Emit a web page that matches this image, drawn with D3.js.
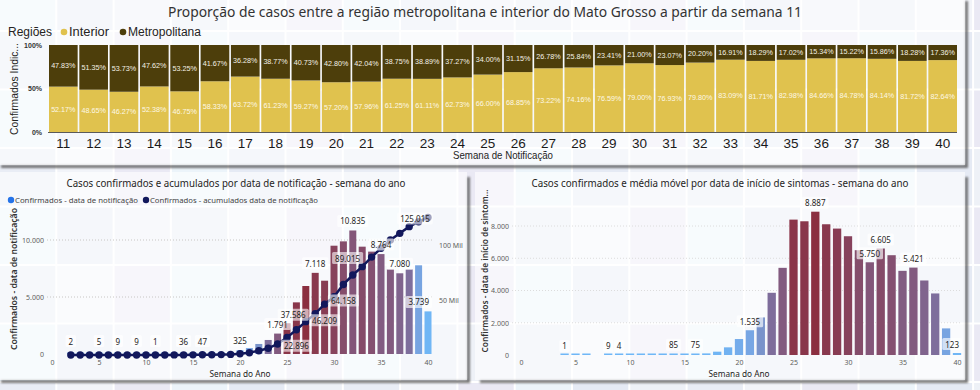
<!DOCTYPE html>
<html><head><meta charset="utf-8">
<script src="https://cdn.jsdelivr.net/npm/d3@7/dist/d3.min.js"></script>
<style>html,body{margin:0;padding:0;background:#fff;overflow:hidden}svg{display:block}</style>
</head><body>
<svg id="chart" width="980" height="390"></svg>
<script>
// ---------------- DATA ----------------
const semanasRegiao = [11,12,13,14,15,16,17,18,19,20,21,22,23,24,25,26,27,28,29,30,31,32,33,34,35,36,37,38,39,40];
const interior = [52.17,48.65,46.27,52.38,46.75,58.33,63.72,61.23,59.27,57.20,57.96,61.25,61.11,62.73,66.00,68.85,73.22,74.16,76.59,79.00,76.93,79.80,83.09,81.71,82.98,84.66,84.78,84.14,81.72,82.64];
const metropolitana = [47.83,51.35,53.73,47.62,53.25,41.67,36.28,38.77,40.73,42.80,42.04,38.75,38.89,37.27,34.00,31.15,26.78,25.84,23.41,21.00,23.07,20.20,16.91,18.29,17.02,15.34,15.22,15.86,18.28,17.36];
const regioes = ['Interior','Metropolitana'];
const ticksRegiaoY = [0,50,100];

const semanasNotificacao = [2,3,4,5,6,7,8,9,10,11,12,13,14,15,16,17,18,19,20,21,22,23,24,25,26,27,28,29,30,31,32,33,34,35,36,37,38,39,40];
const confirmadosNotificacao = [2,1,3,5,4,9,6,9,5,1,10,20,36,30,47,60,110,180,325,520,880,1230,1791,2700,4530,5965,7118,6430,9500,9880,10835,9415,8980,8764,7430,7080,7430,7780,3739];
const acumuladosNotificacao = [2,3,6,11,15,24,30,39,44,45,55,75,111,141,188,248,358,540,1200,2000,3900,6100,10000,16000,22896,30300,37586,46209,53000,64158,72700,80300,89015,97000,104500,110600,116700,121200,125015];
const rotulosNotificacao = [2,5,7,9,11,14,16,20,24,28,32,35,37,40];
const rotulosAcumulados = [26,28,29,31,34,40];
const ticksSemana = [0,5,10,15,20,25,30,35,40];
const ticksConfirmados = [0,5000,10000];
const ticksAcumulados = [50000,100000];

const semanasSintomas = [4,5,6,7,8,9,10,11,12,13,14,15,16,17,18,19,20,21,22,23,24,25,26,27,28,29,30,31,32,33,34,35,36,37,38,39,40];
const confirmadosSintomas = [1,3,2,0,9,4,12,18,25,45,85,55,75,100,206,475,990,1535,2331,3858,5405,8396,8293,8887,8108,7840,7365,6500,5750,6605,6189,5219,5421,4621,3817,1650,123];
const rotulosSintomas = [4,8,9,14,16,21,27,32,33,36,40];
const ticksSintomas = [0,2000,4000,6000,8000];

// ---------------- STYLE CONFIG ----------------
const FA = "'Liberation Sans', Arial, sans-serif";
const FN = "'Noto Sans', 'Open Sans', sans-serif";
const corInterior = '#E0C24E', corMetro = '#4D3E0B';
const corTexto = '#252423', corEixo = '#605E5C';
const posAcum = {26:[0,16],28:[-22,1],29:[0,16],31:[0,16],34:[-24,1],40:[-13,1]};
const locale = d3.formatLocale({decimal:',', thousands:'.', grouping:[3], currency:['R$','']});
const fmt = locale.format(',d');

const svg = d3.select('#chart');
const defs = svg.append('defs');
defs.append('filter').attr('id','blur').attr('x','-50%').attr('y','-50%').attr('width','200%').attr('height','200%')
  .append('feGaussianBlur').attr('stdDeviation',1.2);

// background mosaic
const tilePal = ['#e9edf5','#eef1f7','#e5eaf4','#ecf4fa','#eae9f4','#f2f4f9'];
const tiles = [];
for (let i=0;i<18;i++) for (let j=-1;j<7;j++) tiles.push({i,j});
svg.append('g').selectAll('rect').data(tiles).join('rect')
  .attr('x',d=>d.i*57.3).attr('y',d=>32+d.j*58.5).attr('width',55.3).attr('height',56.5)
  .attr('fill',d=>tilePal[(d.i*5+d.j*3+12)%6]);

function panel(x,y,w,h){
  const s=svg.append('g').attr('filter','url(#blur)').attr('opacity',0.8);
  s.append('rect').attr('x',x+5).attr('y',y+h).attr('width',w-2).attr('height',3).attr('fill','#555');
  s.append('rect').attr('x',x+w).attr('y',y+5).attr('width',3).attr('height',h-2).attr('fill','#555');
  svg.append('rect').attr('x',x).attr('y',y).attr('width',w).attr('height',h)
    .attr('fill','#fff').attr('fill-opacity',0.6);
}
panel(-4,-4,969,169);
panel(-4,172,471,208);
panel(475,172,490,208);

function txt(g,x,y,s,o){
  o=o||{};
  const t=g.append('text').attr('x',x).attr('y',y).text(s)
    .attr('font-family',o.ff||FN).attr('font-size',o.fs||8).attr('fill',o.fill||corTexto)
    .attr('text-anchor',o.anchor||'middle').attr('dominant-baseline','central');
  if(o.fw) t.attr('font-weight',o.fw);
  if(o.len) t.attr('textLength',o.len).attr('lengthAdjust','spacingAndGlyphs');
  if(o.rot) t.attr('transform',`rotate(-90,${x},${y})`);
  return t;
}

// ---------------- TOP CHART ----------------
const gT = svg.append('g');
txt(gT,485,11,'Proporção de casos entre a região metropolitana e interior do Mato Grosso a partir da semana 11',{fs:14.5,fill:'#333',len:634});
txt(gT,8,32,'Regiões',{ff:FA,fs:12.5,anchor:'start',len:44});
const legT=[{n:regioes[0],c:corInterior,x:64,w:40},{n:regioes[1],c:corMetro,x:123,w:73}];
legT.forEach(l=>{
  gT.append('circle').attr('cx',l.x).attr('cy',32).attr('r',3.3).attr('fill',l.c);
  txt(gT,l.x+5,32,l.n,{ff:FA,fs:12.5,anchor:'start',len:l.w});
});
const xT = d3.scaleBand().domain(semanasRegiao).range([49,957]).paddingInner(0.055);
const yT = d3.scaleLinear().domain([0,100]).range([132,45]);
gT.selectAll('rect.int').data(semanasRegiao).join('rect').attr('class','int')
  .attr('x',d=>xT(d)).attr('width',xT.bandwidth())
  .attr('y',(d,i)=>yT(interior[i])).attr('height',(d,i)=>yT(0)-yT(interior[i]))
  .attr('fill',corInterior);
gT.selectAll('rect.met').data(semanasRegiao).join('rect').attr('class','met')
  .attr('x',d=>xT(d)).attr('width',xT.bandwidth())
  .attr('y',(d,i)=>yT(interior[i]+metropolitana[i])).attr('height',(d,i)=>yT(interior[i])-yT(interior[i]+metropolitana[i]))
  .attr('fill',corMetro);
semanasRegiao.forEach((s,i)=>{
  const cx=xT(s)+xT.bandwidth()/2;
  txt(gT,cx,(yT(0)+yT(interior[i]))/2,interior[i].toFixed(2)+'%',{ff:FA,fs:7.2,fill:'#fdf8e6'});
  txt(gT,cx,(yT(interior[i])+yT(interior[i]+metropolitana[i]))/2,metropolitana[i].toFixed(2)+'%',{ff:FA,fs:7.2,fill:'#f4f1e6'});
});
gT.append('line').attr('x1',48).attr('x2',957).attr('y1',132.5).attr('y2',132.5).attr('stroke','#5a5a5a').attr('stroke-width',1);
const axT = gT.append('g').attr('transform','translate(0,132)').call(d3.axisBottom(xT).tickSize(0).tickPadding(6));
axT.select('.domain').remove();
axT.selectAll('text').attr('font-family',FA).attr('font-size',13.5).attr('fill','#1a1a1a');
const ayT = gT.append('g').attr('transform','translate(46,0)').call(d3.axisLeft(yT).tickValues(ticksRegiaoY).tickFormat(d=>d+'%').tickSize(0).tickPadding(4));
ayT.select('.domain').remove();
ayT.selectAll('text').attr('font-family',FA).attr('font-size',7).attr('font-weight','bold').attr('fill','#333');
txt(gT,14,89,'Confirmados Indic...',{ff:FA,fs:11,rot:true,len:92});
txt(gT,503,155,'Semana de Notificação',{ff:FA,fs:11,len:100});

// ---------------- COLOR BY SYMPTOMS ----------------
const sintPorSemana = new Map(semanasSintomas.map((s,i)=>[s,confirmadosSintomas[i]]));
const cor = d3.scaleLinear().domain([0,1600,3800,8887]).range(['#6FB7F7','#77A5E3','#7E6E9C','#8B2F40']).interpolate(d3.interpolateRgb).clamp(true);

function label(g,x,y,s,bg,maxR){
  const t=txt(g,x,y,s,{fs:8,fill:corTexto});
  const w=t.node().getComputedTextLength();
  if(maxR!==undefined && x+w/2+3>maxR){ x=maxR-w/2-3; t.attr('x',x); }
  g.insert('rect','text:last-child').attr('x',x-w/2-3).attr('y',y-6).attr('width',w+6).attr('height',12)
   .attr('rx',1.5).attr('fill','#fff').attr('fill-opacity',bg||0.65);
  t.raise();
}

// ---------------- BOTTOM LEFT ----------------
const gL = svg.append('g');
txt(gL,236,183,'Casos confirmados e acumulados por data de notificação - semana do ano',{fs:10,len:339});
gL.append('circle').attr('cx',11).attr('cy',200).attr('r',3.2).attr('fill','#2573E8');
txt(gL,15,200,'Confirmados - data de notificação',{fs:7.5,anchor:'start',len:123,fill:'#444'});
gL.append('circle').attr('cx',146).attr('cy',200).attr('r',3.2).attr('fill','#12185C');
txt(gL,150,200,'Confirmados - acumulados data de notificação',{fs:7.5,anchor:'start',len:168,fill:'#444'});

const xL = d3.scaleLinear().domain([0,40]).range([52,428]);
const yL = d3.scaleLinear().domain([0,10000]).range([354,240]);
const yLR = d3.scaleLinear().domain([0,100000]).range([355,245]);
gL.selectAll('line.grid').data(ticksConfirmados.slice(1)).join('line').attr('class','grid')
  .attr('x1',47).attr('x2',434).attr('y1',d=>yL(d)).attr('y2',d=>yL(d))
  .attr('stroke','#c8c6c4').attr('stroke-dasharray','1,2');
const axL = gL.append('g').attr('transform','translate(0,355)').call(d3.axisBottom(xL).tickValues(ticksSemana).tickSize(0).tickPadding(5));
axL.select('.domain').remove();
axL.selectAll('text').attr('font-family',FN).attr('font-size',7).attr('fill',corEixo);
const ayL = gL.append('g').attr('transform','translate(47,0)').call(d3.axisLeft(yL).tickValues(ticksConfirmados).tickFormat(fmt).tickSize(0).tickPadding(3));
ayL.select('.domain').remove();
ayL.selectAll('text').attr('font-family',FN).attr('font-size',7).attr('fill',corEixo);
const ayLR = gL.append('g').attr('transform','translate(436,0)').call(d3.axisRight(yLR).tickValues(ticksAcumulados).tickFormat(d=>(d/1000)+' Mil').tickSize(0).tickPadding(3));
ayLR.select('.domain').remove();
ayLR.selectAll('text').attr('font-family',FN).attr('font-size',7).attr('fill',corEixo);
txt(gL,13,279,'Confirmados - data de notificação',{fs:9,fw:600,rot:true,len:142,fill:'#333'});
txt(gL,240,373,'Semana do Ano',{fs:9,len:61});

const bwL=7;
gL.selectAll('rect.bar').data(semanasNotificacao).join('rect').attr('class','bar')
  .attr('x',d=>xL(d)-bwL/2).attr('width',bwL)
  .attr('y',(d,i)=>Math.min(yL(confirmadosNotificacao[i]),yL(0)-1.5))
  .attr('height',(d,i)=>Math.max(yL(0)-yL(confirmadosNotificacao[i]),1.5))
  .attr('fill',d=>cor(sintPorSemana.get(d)||0));
const lineL = d3.line().x((d,i)=>xL(d)).y((d,i)=>yLR(acumuladosNotificacao[i]));
gL.append('path').datum(semanasNotificacao).attr('d',lineL).attr('fill','none').attr('stroke','#12185C').attr('stroke-width',2.5);
gL.selectAll('circle.dot').data(semanasNotificacao).join('circle').attr('class','dot')
  .attr('cx',d=>xL(d)).attr('cy',(d,i)=>yLR(acumuladosNotificacao[i])).attr('r',3.7).attr('fill','#12185C');
const gLl = gL.append('g');
rotulosNotificacao.forEach(s=>{
  const i=semanasNotificacao.indexOf(s); const v=confirmadosNotificacao[i];
  const g=gLl.append('g');
  label(g,xL(s),Math.min(yL(v)-9.5,341),fmt(v),0.65,432);
});
rotulosAcumulados.forEach(s=>{
  const i=semanasNotificacao.indexOf(s); const v=acumuladosNotificacao[i];
  const g=gLl.append('g'); const p=posAcum[s];
  label(g,xL(s)+p[0],yLR(v)+p[1],fmt(v),0.6,434);
});

// ---------------- BOTTOM RIGHT ----------------
const gR = svg.append('g');
txt(gR,720,183,'Casos confirmados e média móvel por data de início de sintomas - semana do ano',{fs:10,len:377});
const xR = d3.scaleLinear().domain([0,40]).range([521,957]);
const yR = d3.scaleLinear().domain([0,8000]).range([355,226]);
gR.selectAll('line.grid').data(ticksSintomas.slice(1)).join('line').attr('class','grid')
  .attr('x1',512).attr('x2',962).attr('y1',d=>yR(d)).attr('y2',d=>yR(d))
  .attr('stroke','#dcdcdc').attr('stroke-dasharray','1,2');
const axR = gR.append('g').attr('transform','translate(0,355)').call(d3.axisBottom(xR).tickValues(ticksSemana).tickSize(0).tickPadding(5));
axR.select('.domain').remove();
axR.selectAll('text').attr('font-family',FN).attr('font-size',7).attr('fill',corEixo);
const ayR = gR.append('g').attr('transform','translate(512,0)').call(d3.axisLeft(yR).tickValues(ticksSintomas).tickFormat(fmt).tickSize(0).tickPadding(3));
ayR.select('.domain').remove();
ayR.selectAll('text').attr('font-family',FN).attr('font-size',7).attr('fill',corEixo);
txt(gR,484,271,'Confirmados - data de início de sintom...',{fs:9,fw:600,rot:true,len:163,fill:'#333'});
txt(gR,739,373,'Semana do Ano',{fs:9,len:61});
const bwR=8.3;
gR.selectAll('rect.bar').data(semanasSintomas.filter((s,i)=>confirmadosSintomas[i]>0)).join('rect').attr('class','bar')
  .attr('x',d=>xR(d)-bwR/2).attr('width',bwR)
  .attr('y',d=>Math.min(yR(sintPorSemana.get(d)),yR(0)-1.5))
  .attr('height',d=>Math.max(yR(0)-yR(sintPorSemana.get(d)),1.5))
  .attr('fill',d=>cor(sintPorSemana.get(d)));
rotulosSintomas.forEach(s=>{
  const v=sintPorSemana.get(s);
  const g=gR.append('g');
  label(g,xR(s),yR(v)-9,fmt(v),0.65,962);
});
</script>
</body></html>
